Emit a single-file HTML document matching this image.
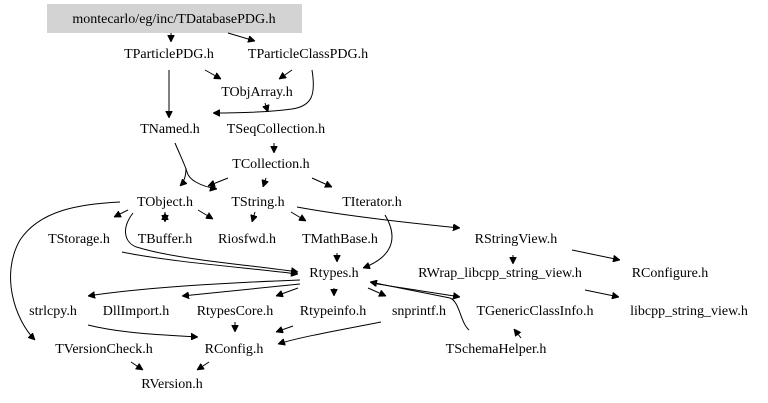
<!DOCTYPE html>
<html><head><meta charset="utf-8"><style>
html,body{margin:0;padding:0;background:#fff;width:768px;height:403px;overflow:hidden}
text{font-family:"Liberation Serif",serif;font-size:14px;fill:#000;text-anchor:middle}
path{fill:none;stroke:#000;stroke-width:1}
</style></head><body>
<svg width="768" height="403" viewBox="0 0 768 403" xmlns="http://www.w3.org/2000/svg">
<defs><marker id="a" viewBox="0 0 10 10" refX="10" refY="5" markerWidth="7" markerHeight="7" orient="auto" markerUnits="userSpaceOnUse"><path d="M0,0L10,5L0,10z" style="fill:#000;stroke:#000"/></marker></defs>
<rect x="47" y="4" width="255" height="29" fill="#d3d3d3"/>
<text x="174" y="23">montecarlo/eg/inc/TDatabasePDG.h</text>
<text x="169" y="58">TParticlePDG.h</text>
<text x="308" y="58">TParticleClassPDG.h</text>
<text x="257" y="96">TObjArray.h</text>
<text x="170" y="133">TNamed.h</text>
<text x="276" y="133">TSeqCollection.h</text>
<text x="271" y="168">TCollection.h</text>
<text x="165" y="206">TObject.h</text>
<text x="258" y="206">TString.h</text>
<text x="372" y="206">TIterator.h</text>
<text x="79" y="243">TStorage.h</text>
<text x="165" y="243">TBuffer.h</text>
<text x="247" y="243">Riosfwd.h</text>
<text x="340" y="243">TMathBase.h</text>
<text x="516" y="243">RStringView.h</text>
<text x="334" y="277">Rtypes.h</text>
<text x="500" y="277">RWrap_libcpp_string_view.h</text>
<text x="670" y="277">RConfigure.h</text>
<text x="53" y="315">strlcpy.h</text>
<text x="136" y="315">DllImport.h</text>
<text x="235" y="315">RtypesCore.h</text>
<text x="333" y="315">Rtypeinfo.h</text>
<text x="419" y="315">snprintf.h</text>
<text x="535" y="315">TGenericClassInfo.h</text>
<text x="689" y="315">libcpp_string_view.h</text>
<text x="104" y="353">TVersionCheck.h</text>
<text x="234" y="353">RConfig.h</text>
<text x="496" y="353">TSchemaHelper.h</text>
<text x="172" y="388">RVersion.h</text>
<g marker-end="url(#a)">
<path d="M171,33L171,42"/>
<path d="M228,33L255,41"/>
<path d="M169,70L169,118"/>
<path d="M205,70L221,79"/>
<path d="M292,70L279,79"/>
<path d="M312,70C316,95 312,106 292,109C270,112 240,113 213,113"/>
<path d="M265,103L268,112"/>
<path d="M274,143L274,153"/>
<path d="M175,143C180,155 185,165 187,172C189,180 200,186 217,189"/>
<path d="M186,168C186,176 184,182 180,186"/>
<path d="M228,178L208,186"/>
<path d="M266,178L263,187"/>
<path d="M312,178L332,187"/>
<path d="M120,202C80,204 40,210 20,240C0,275 15,320 35,340"/>
<path d="M128,210L114,217"/>
<path d="M165,212L165,222"/>
<path d="M165,222L165,213"/>
<path d="M198,210L213,219"/>
<path d="M133,213C120,230 125,245 140,248C180,260 260,266 298,272"/>
<path d="M122,252C170,262 250,268 298,274"/>
<path d="M255,212L252,222"/>
<path d="M291,212L306,221"/>
<path d="M297,207C340,215 400,222 460,228"/>
<path d="M385,215C400,240 390,258 363,268"/>
<path d="M337,253L337,262"/>
<path d="M513,255L513,264"/>
<path d="M572,250L620,260"/>
<path d="M585,290L619,297"/>
<path d="M300,280C220,283 140,288 88,296"/>
<path d="M300,284L182,296"/>
<path d="M298,288L276,296"/>
<path d="M334,288L334,296"/>
<path d="M368,288L386,296"/>
<path d="M372,283C400,288 430,292 460,297"/>
<path d="M469,330C460,322 460,302 450,298C420,292 390,286 370,282"/>
<path d="M521,338L514,329"/>
<path d="M88,325C120,333 160,335 198,337"/>
<path d="M235,322L235,332"/>
<path d="M293,326L276,332"/>
<path d="M381,322C340,330 300,337 278,344"/>
<path d="M131,362L143,370"/>
<path d="M209,362L197,370"/>
</g>
</svg>
</body></html>
